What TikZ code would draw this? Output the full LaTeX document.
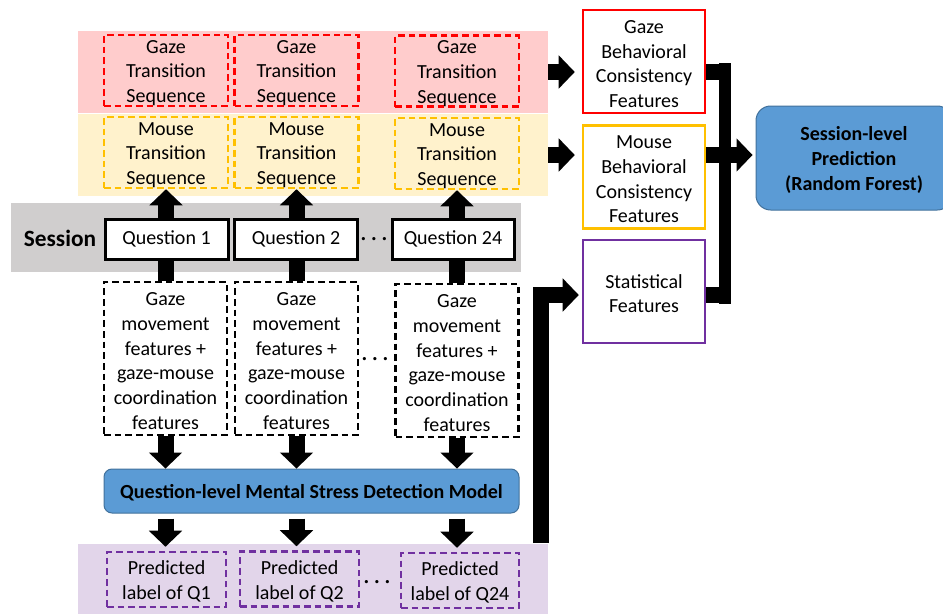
\documentclass[tikz,border=0pt]{standalone}
\usepackage{fontspec}
\setmainfont{Carlito}
\usetikzlibrary{arrows.meta}
\definecolor{bandred}{HTML}{FFCCCC}
\definecolor{bandgold}{HTML}{FFF2CC}
\definecolor{bandgray}{HTML}{D0CECE}
\definecolor{bandviolet}{HTML}{E2D5EA}
\definecolor{gold}{HTML}{FFC000}
\definecolor{violet}{HTML}{7030A0}
\definecolor{modelblue}{HTML}{5B9BD5}
\definecolor{modeledge}{HTML}{41719C}
% strut that gives the first line of a label a full ascent
\newcommand\topstrut{\rule{0pt}{13.5pt}}
\begin{document}
% one unit = one pixel (0.75pt), y grows downwards
\begin{tikzpicture}[x=0.75pt,y=-0.75pt,
  every node/.style={font=\fontsize{15}{18.5}\selectfont, align=center, inner sep=0pt},
  band/.style={fill=#1, minimum width=352.5pt, minimum height=61.5pt},
  dashbox/.style={draw=#1, line width=1.9pt, dash pattern=on 5pt off 3pt},
  seqbox/.style={dashbox=#1, minimum width=93pt, minimum height=53.25pt},
  featbox/.style={dashbox=black, minimum width=92.25pt, minimum height=114.75pt},
  predbox/.style={dashbox=violet, minimum width=89.25pt, minimum height=41.25pt},
  qbox/.style={draw=black, fill=white, line width=2.25pt, minimum width=92.25pt, minimum height=30pt},
  outbox/.style={draw=#1, line width=1.9pt, minimum width=91.5pt, minimum height=77.25pt},
  model/.style={draw=modeledge, line width=0.75pt, fill=modelblue, rounded corners=6pt, font=\fontsize{15}{18.5}\selectfont\bfseries},
  dotsnode/.style={font=\fontsize{20}{20}\selectfont},
  shaft/.style={line width=12pt},
  fat/.style={line width=12pt, -{Triangle[width=25pt,length=12pt,line width=0pt]}},
]
\useasboundingbox (0,0) rectangle (943,614);
\clip (0,0) rectangle (943,614);

% coloured bands
\node[band=bandred] (pink) at (313,72) {};
\node[band=bandgold] (yellow) at (313,155) {};
\node[fill=bandgray, minimum width=382.5pt, minimum height=51.75pt] (gray) at (266,237.5) {};
\node[fill=bandviolet, minimum width=352.5pt, minimum height=55.5pt] (purple) at (313,580.5) {};

% gaze transition sequences
\node[seqbox=red] (g1) at (166,70.5) {\topstrut Gaze\\Transition\\Sequence};
\node[seqbox=red] (g2) at (296.5,70.5) {\topstrut Gaze\\Transition\\Sequence};
\node[seqbox=red] (g3) at (457,71) {\topstrut Gaze\\Transition\\Sequence};

% mouse transition sequences
\node[seqbox=gold] (m1) at (166,152.5) {\topstrut Mouse\\Transition\\Sequence};
\node[seqbox=gold] (m2) at (296.5,152.5) {\topstrut Mouse\\Transition\\Sequence};
\node[seqbox=gold] (m3) at (457,153.5) {\topstrut Mouse\\Transition\\Sequence};

% session row
\node[font=\fontsize{17.5}{20}\selectfont\bfseries] (sess) at (60,238) {Session};
\node[qbox] (q1) at (166.5,239) {Question 1};
\node[qbox] (q2) at (296,239) {Question 2};
\node[dotsnode] (d1) at (374,239) {.\hspace{2.9pt}.\hspace{2.9pt}.};
\node[qbox, minimum width=91.5pt] (q24) at (453,239) {Question 24};

% per-question features
\node[featbox] (f1) at (165.5,358.5) {\topstrut Gaze\\movement\\features +\\gaze-mouse\\coordination\\features};
\node[featbox] (f2) at (296.5,358.5) {\topstrut Gaze\\movement\\features +\\gaze-mouse\\coordination\\features};
\node[dotsnode] (d2) at (375,359) {.\hspace{2.9pt}.\hspace{2.9pt}.};
\node[featbox] (f3) at (457,360.5) {\topstrut Gaze\\movement\\features +\\gaze-mouse\\coordination\\features};

% question-level model
\node[model, minimum width=311.25pt, minimum height=33pt] (qm) at (311.5,491) {\topstrut Question-level Mental Stress Detection Model};

% predicted labels
\node[predbox] (p1) at (166.5,579.5) {\topstrut Predicted\\label of Q1};
\node[predbox] (p2) at (299.5,579) {\topstrut Predicted\\label of Q2};
\node[dotsnode] (d3) at (377,582) {.\hspace{2.9pt}.\hspace{2.9pt}.};
\node[predbox, minimum width=88.5pt] (p3) at (460,580.5) {\topstrut Predicted\\label of Q24};

% session-level features
\node[outbox=red] (gbcf) at (644,61.5) {\topstrut Gaze\\Behavioral\\Consistency\\Features};
\node[outbox=gold] (mbcf) at (644,177) {\topstrut Mouse\\Behavioral\\Consistency\\Features};
\node[outbox=violet] (stat) at (644,291.5) {\topstrut Statistical\\Features};

% session-level classifier
\node[model, rounded corners=11pt, minimum width=147pt, minimum height=78pt] (sp) at (854,158) {\topstrut Session-level\\Prediction\\(Random Forest)};

% question boxes feed the transition sequences and the feature boxes
\foreach \q/\m/\f in {q1/m1/f1, q2/m2/f2, q24/m3/f3}{
  \draw[fat] (\q.north -| \m.south) -- (\m.south);
  \draw[shaft] (\q.south -| \f.north) -- (\f.north);
  \draw[fat] (\f.south) -- (\f.south |- qm.north);
}
\foreach \f/\p in {f1/p1, f2/p2, f3/p3}{
  \draw[fat, shorten <=3.75pt, shorten >=3pt] (\f.south |- qm.south) -- (\f.south |- \p.north);
}

% bands to session-level features
\draw[fat, shorten >=5.25pt] (pink.east) -- (pink.east -| gbcf.west);
\draw[fat, shorten >=5.25pt] (yellow.east) -- (yellow.east -| mbcf.west);
\coordinate (elb) at (541,295);
\draw[fat, line join=miter, shorten >=2.25pt] (purple.north -| elb) -- (elb) -- (elb -| stat.west);

% merge into the classifier
\coordinate (barT) at (725,63);
\coordinate (barB) at (725,304);
\draw[line width=9pt] (barT) -- (barB);
\draw[shaft] (gbcf.east |- pink.east) -- ([xshift=4.5pt]barT |- pink.east);
\draw[shaft] (mbcf.east |- yellow.east) -- ([xshift=4.5pt]barT |- yellow.east);
\draw[shaft] (stat.east |- elb) -- ([xshift=4.5pt]barT |- elb);
\draw[fat, shorten >=2.25pt] (barT |- yellow.east) -- (yellow.east -| sp.west);
\end{tikzpicture}
\end{document}
